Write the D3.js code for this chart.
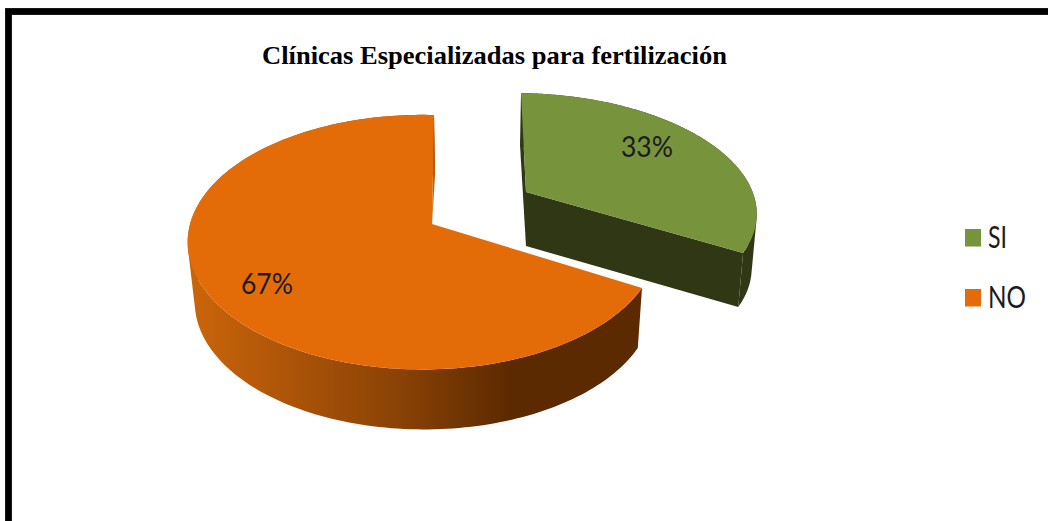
<!DOCTYPE html>
<html><head><meta charset="utf-8">
<script src="https://cdn.jsdelivr.net/npm/d3@7"></script>
<style>html,body{margin:0;padding:0;background:#fff;overflow:hidden}svg{display:block}</style>
</head><body><svg id="c" width="1048" height="521"></svg>
<script>
const chartTitle = "Clínicas Especializadas para fertilización";
const categories = ["SI", "NO"];
const shares = [33, 67];
const sliceColors = ["#77933c", "#e36c09"];

const svg = d3.select("#c");

// frame
svg.append("rect").attr("x", 8.5).attr("y", 11.5).attr("width", 1200).attr("height", 1000)
  .attr("fill", "#fff").attr("stroke", "#000").attr("stroke-width", 6.8);

svg.append("text").attr("x", 494.5).attr("y", 64).attr("text-anchor", "middle")
  .attr("font-family", "'Liberation Serif'").attr("font-weight", 700).attr("font-size", 25.5)
  .attr("textLength", 465).attr("lengthAdjust", "spacingAndGlyphs").attr("fill", "#000").text(chartTitle);

const pieGen = d3.pie().sort(null).value(d => d);
const arcs = pieGen(shares);

// Perspective projection of the pie's ground plane (r right, f far)
function projector(p) {
  return (r, f) => {
    const d = 1 + p.k * f + p.m * r;
    return [p.x0 + (p.a * r + p.b * f) / d, p.y0 + (p.c * r - p.e * f) / d];
  };
}
const views = [
  { x0: 526, y0: 192, a: 227.5, b: -5.7, c: 2.6, e: 113, k: 0.143, m: 0, h: 54, s: 0.978, vx: 526, wall: "#2f3715" },
  { x0: 432, y0: 224, a: 232.3, b: 2.3, c: 1.9, e: 124.6, k: 0.143, m: 0.0377, h: 60, s: 0.975, vx: 474, wall: "#5c2a00" }
];

const defs = svg.append("defs");
const grad = defs.append("linearGradient").attr("id", "orangeSide")
  .attr("gradientUnits", "userSpaceOnUse").attr("x1", 190).attr("x2", 510).attr("y1", 0).attr("y2", 0);
grad.append("stop").attr("offset", 0).attr("stop-color", "#cb650a");
grad.append("stop").attr("offset", 0.65).attr("stop-color", "#8a4206");
grad.append("stop").attr("offset", 1).attr("stop-color", "#5c2a00");

const line = d3.line();
arcs.forEach((arc, i) => {
  const v = views[i], P = projector(v);
  const top = t => P(Math.sin(t), Math.cos(t));
  const drop = q => [v.vx + (q[0] - v.vx) * v.s, q[1] + v.h];
  const steps = d3.range(0, 181).map(j => arc.startAngle + (arc.endAngle - arc.startAngle) * j / 180);
  const rim = steps.map(top);
  const apex = P(0, 0);
  const g = svg.append("g");
  const sideFill = i === 1 ? "url(#orangeSide)" : v.wall;

  // outer wall: all strips in one path, wound alike, so they form a seamless union
  const strips = d3.range(rim.length - 1).map(j => {
    const quad = [rim[j], rim[j + 1], drop(rim[j + 1]), drop(rim[j])];
    if (d3.polygonArea(quad) < 0) quad.reverse();
    return line(quad) + "Z";
  }).join("");
  g.append("path").attr("d", strips).attr("fill", sideFill).attr("fill-rule", "nonzero");

  // cut walls
  const first = rim[0], last = rim[rim.length - 1];
  if (i === 0) {
    g.append("path").attr("d", line([apex, first, [first[0] - 1, first[1] + 52], drop(apex)]) + "Z").attr("fill", v.wall);
    g.append("path").attr("d", line([apex, last, drop(last), drop(apex)]) + "Z").attr("fill", v.wall);
  } else {
    g.append("path").attr("d", line([apex, last, drop(last)]) + "Z").attr("fill", "#b85e08");
  }
  // top face
  g.append("path").attr("d", line([apex, ...rim]) + "Z").attr("fill", sliceColors[i]);
});

// percentage labels
function label(txt, x, y, w, size) {
  return svg.append("text").attr("x", x).attr("y", y).attr("font-family", "Lato")
    .attr("font-size", size).attr("fill", "#1c1c1c")
    .attr("textLength", w).attr("lengthAdjust", "spacingAndGlyphs").text(txt);
}
const pct = d3.format(".0f");
const labelAnchors = [[621, 157], [241, 294]];
shares.forEach((s, i) => label(pct(s) + "%", labelAnchors[i][0], labelAnchors[i][1], 52, 29));

// legend
const legendY = d3.scalePoint().domain(categories).range([229, 289]);
categories.forEach((c, i) => {
  svg.append("rect").attr("x", 965).attr("y", legendY(c)).attr("width", 16).attr("height", 17.5).attr("fill", sliceColors[i]);
  label(c, 988, legendY(c) + 19, i === 0 ? 19 : 38, 30);
});
</script></body></html>
